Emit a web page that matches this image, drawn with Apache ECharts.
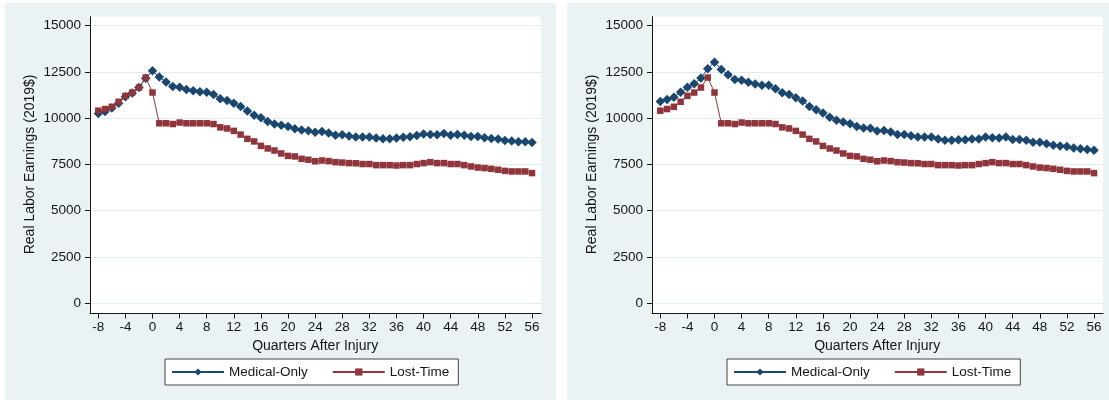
<!DOCTYPE html>
<html>
<head>
<meta charset="utf-8">
<script src="https://cdn.jsdelivr.net/npm/echarts@6/dist/echarts.min.js"></script>
<style>
  html, body { margin: 0; padding: 0; background: #fff; }
  #chart { width: 1109px; height: 402px; }
</style>
</head>
<body>
<div id="chart"></div>
<script>
// Quarters relative to the injury quarter
const quarters = [-8, -7, -6, -5, -4, -3, -2, -1, 0, 1, 2, 3, 4, 5, 6, 7, 8, 9, 10, 11, 12,
  13, 14, 15, 16, 17, 18, 19, 20, 21, 22, 23, 24, 25, 26, 27, 28, 29, 30, 31, 32,
  33, 34, 35, 36, 37, 38, 39, 40, 41, 42, 43, 44, 45, 46, 47, 48, 49, 50, 51, 52,
  53, 54, 55, 56];

// Mean real labor earnings (2019$), medical-only claims, left panel
const medicalOnlyLeft = [10250, 10350, 10550, 10800, 11150, 11350, 11650, 12150, 12550,
  12220, 11950, 11700, 11660, 11550, 11480, 11420, 11400, 11270, 11050, 10950, 10800,
  10630, 10380, 10160, 10020, 9820, 9680, 9620, 9550, 9420, 9360, 9320, 9230, 9280,
  9190, 9080, 9100, 9040, 8980, 8980, 8980, 8920, 8880, 8890, 8920, 8970, 8990, 9060,
  9140, 9120, 9100, 9170, 9080, 9120, 9080, 9010, 9000, 8940, 8900, 8870, 8790, 8760,
  8720, 8720, 8680];

// Mean real labor earnings (2019$), medical-only claims, right panel
const medicalOnlyRight = [10900, 11010, 11130, 11400, 11670, 11860, 12160, 12670, 13020,
  12630, 12340, 12090, 12040, 11930, 11840, 11780, 11770, 11590, 11370, 11280, 11100,
  10920, 10630, 10450, 10270, 10040, 9880, 9790, 9700, 9550, 9460, 9450, 9300, 9330,
  9250, 9120, 9120, 9050, 8980, 8980, 8980, 8870, 8810, 8810, 8830, 8830, 8870, 8870,
  8980, 8940, 8920, 8980, 8850, 8850, 8800, 8700, 8690, 8620, 8540, 8500, 8460, 8380,
  8350, 8300, 8260];

// Mean real labor earnings (2019$), lost-time claims
const lostTime = [10400, 10490, 10610, 10880, 11200, 11380, 11650, 12190, 11380,
  9720, 9720, 9680, 9760, 9720, 9720, 9720, 9720, 9680, 9500, 9440, 9310,
  9110, 8880, 8740, 8500, 8360, 8250, 8090, 7960, 7930, 7800, 7750, 7670, 7710,
  7680, 7620, 7600, 7570, 7560, 7520, 7520, 7460, 7460, 7460, 7440, 7460, 7460, 7520,
  7570, 7620, 7570, 7570, 7520, 7520, 7460, 7390, 7330, 7300, 7260, 7210, 7150, 7120,
  7120, 7120, 7030];

// Axis settings
const yMin = 0, yMax = 15000, yStep = 2500;
const xFirst = -8, xLast = 56, xStep = 4;
const seriesNames = ['Medical-Only', 'Lost-Time'];
const yTitle = 'Real Labor Earnings (2019$)';
const xTitle = 'Quarters After Injury';

const FONT = '"Liberation Sans", Arial, Helvetica, sans-serif';
const INK = '#151515';
const NAVY = '#1a476f';
const MAROON = '#90353b';
const PANEL_BG = '#eaf2f3';
const GRID_LINE = '#e2ebee';

const grid = [], xAxis = [], yAxis = [], series = [], legend = [], graphic = [];

function pairs(vals) {
  return quarters.map((q, i) => [q, vals[i]]);
}

function addPanel(ox, medical) {
  const base = grid.length;
  // plot region (frame), data area (0..15000), tick row (-8..56)
  const frame = { left: ox + 90, top: 16.7, width: 451, height: 296.8 };
  const data = { left: ox + 90, top: 25.5, width: 451, height: 277.8 };
  const ticks = { left: ox + 98.3, top: 16.7, width: 433.7, height: 296.8 };
  const pxPerQ = ticks.width / (xLast - xFirst);
  const xMin = xFirst - (ticks.left - data.left) / pxPerQ;
  const xMax = xLast + ((data.left + data.width) - (ticks.left + ticks.width)) / pxPerQ;

  graphic.push({
    type: 'rect', silent: true, z: -10,
    shape: { x: ox + 5, y: 3, width: 551, height: 397 },
    style: { fill: PANEL_BG }
  });

  grid.push(Object.assign({ show: true, backgroundColor: '#fff', borderWidth: 0, outerBoundsMode: 'none' }, frame));
  grid.push(Object.assign({ outerBoundsMode: 'none' }, data));
  grid.push(Object.assign({ outerBoundsMode: 'none' }, ticks));

  const axisLineOnly = {
    type: 'value', min: 0, max: 1,
    axisLine: { show: true, onZero: false, lineStyle: { color: INK, width: 1 } },
    axisTick: { show: false }, axisLabel: { show: false }, splitLine: { show: false }
  };
  xAxis.push(Object.assign({ gridIndex: base }, axisLineOnly));
  yAxis.push(Object.assign({ gridIndex: base }, axisLineOnly));

  xAxis.push({ gridIndex: base + 1, type: 'value', min: xMin, max: xMax, show: false,
    axisLine: { onZero: false } });
  yAxis.push({
    gridIndex: base + 1, type: 'value', min: yMin, max: yMax, interval: yStep,
    axisLine: { show: false, onZero: false },
    axisTick: { show: true, length: 5, lineStyle: { color: INK, width: 1 } },
    axisLabel: { margin: 9, fontSize: 13.5, color: INK, fontFamily: FONT,
      formatter: v => String(v) },
    splitLine: { show: true, lineStyle: { color: GRID_LINE, width: 1 } },
    name: yTitle, nameLocation: 'middle', nameGap: 53,
    nameTextStyle: { fontSize: 14, color: INK, fontFamily: FONT }
  });

  xAxis.push({
    gridIndex: base + 2, type: 'value', min: xFirst, max: xLast, interval: xStep,
    axisLine: { show: false, onZero: false },
    axisTick: { show: true, length: 5, lineStyle: { color: INK, width: 1 } },
    axisLabel: { margin: 7, fontSize: 13.5, color: INK, fontFamily: FONT },
    splitLine: { show: false },
    name: xTitle, nameLocation: 'middle', nameGap: 23,
    nameTextStyle: { fontSize: 14, color: INK, fontFamily: FONT }
  });
  yAxis.push({ gridIndex: base + 2, type: 'value', show: false, axisLine: { onZero: false } });

  series.push({
    type: 'line', name: seriesNames[0], xAxisIndex: base + 1, yAxisIndex: base + 1,
    data: pairs(medical), symbol: 'diamond', symbolSize: 9.5, showAllSymbol: true,
    clip: false, lineStyle: { color: NAVY, width: 1 }, itemStyle: { color: NAVY }
  });
  series.push({
    type: 'line', name: seriesNames[1], xAxisIndex: base + 1, yAxisIndex: base + 1,
    data: pairs(lostTime), symbol: 'rect', symbolSize: 6.5, showAllSymbol: true,
    clip: false, lineStyle: { color: MAROON, width: 1 }, itemStyle: { color: MAROON }
  });

  legend.push({
    left: ox + 165, top: 359, orient: 'horizontal',
    data: seriesNames, selectedMode: false,
    itemWidth: 52, itemHeight: 9, itemGap: 24,
    padding: [6, 9, 6, 6],
    backgroundColor: '#fff', borderColor: '#444', borderWidth: 1, borderRadius: 0,
    textStyle: { fontSize: 13.5, color: INK, fontFamily: FONT }
  });
}

addPanel(0, medicalOnlyLeft);
addPanel(562, medicalOnlyRight);

const chart = echarts.init(document.getElementById('chart'), null, { renderer: 'canvas' });
chart.setOption({
  backgroundColor: '#fff',
  animation: false,
  textStyle: { fontFamily: FONT },
  grid, xAxis, yAxis, series, legend, graphic
});
</script>
</body>
</html>
